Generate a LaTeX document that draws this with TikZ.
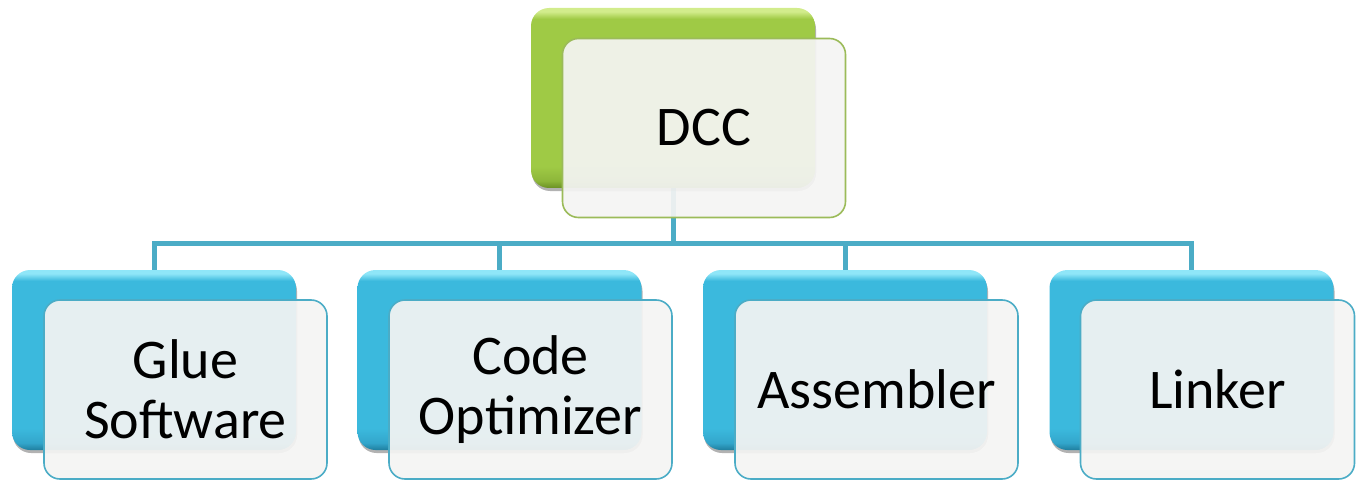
\documentclass[tikz,border=0pt]{standalone}
\usepackage{fontspec}
\setmainfont{Carlito}
\usetikzlibrary{shadows}

% palette
\definecolor{blueBase}{HTML}{3BB9DD}
\definecolor{blueEdge}{HTML}{33A6CB}
\definecolor{blueLight}{HTML}{8FE6F8}
\definecolor{blueDark}{HTML}{1F7E9E}
\definecolor{greenBase}{HTML}{9FCA45}
\definecolor{greenEdge}{HTML}{8DB63A}
\definecolor{greenLight}{HTML}{D2EC8C}
\definecolor{greenDark}{HTML}{6A9024}
\definecolor{blueLine}{HTML}{4BACC6}
\definecolor{greenLine}{HTML}{9BBB59}
\definecolor{paneFill}{HTML}{F4F4F3}

% bevelled fills for the rear cards (stops between 25bp and 75bp span the card)
\pgfdeclareverticalshading{bluebevel}{100bp}{color(0bp)=(blueDark); color(25bp)=(blueDark); color(27bp)=(blueEdge); color(31bp)=(blueBase); color(72bp)=(blueBase); color(74bp)=(blueLight); color(100bp)=(blueLight)}
\pgfdeclareverticalshading{greenbevel}{100bp}{color(0bp)=(greenDark); color(25bp)=(greenDark); color(27bp)=(greenEdge); color(31bp)=(greenBase); color(72bp)=(greenBase); color(74bp)=(greenLight); color(100bp)=(greenLight)}

\pgfdeclarelayer{wires}
\pgfsetlayers{wires,main}

\tikzset{
  card/.style={rectangle, rounded corners=18pt, minimum width=284pt, minimum height=180pt,
    inner sep=0pt, draw=none,
    drop shadow={shadow xshift=1pt, shadow yshift=-3pt, opacity=0.3, fill=black}},
  bluecard/.style={card, shading=bluebevel},
  greencard/.style={card, shading=greenbevel},
  pane/.style={rectangle, rounded corners=16pt, minimum width=283pt, minimum height=179pt,
    inner sep=0pt, fill=paneFill, fill opacity=0.93, text opacity=1, line width=1.6pt,
    align=center, font=\fontsize{56}{60}\selectfont},
  bluepane/.style={pane, draw=blueLine},
  greenpane/.style={pane, draw=greenLine},
  conn/.style={draw=blueLine, line width=5pt, line join=miter}
}

\begin{document}
\begin{tikzpicture}[x=1pt, y=-1pt]
  \useasboundingbox (0,0) rectangle (1356,481);

  % bus line joining the root to the four modules
  \coordinate (bus) at (673,243);

  % rear cards
  \node[greencard] (dccb) at (673,98) {};
  \node[bluecard] (gb) at (154,360) {};
  \node[bluecard] (cb) at (499.5,360) {};
  \node[bluecard] (ab) at (845,360) {};
  \node[bluecard] (lb) at (1191.5,360) {};

  % connectors, kept underneath the cards
  \begin{pgfonlayer}{wires}
    \draw[conn] (dccb.south) -- (dccb.south |- bus);
    \draw[conn] (gb.north) |- (lb.north |- bus) -- (lb.north);
    \draw[conn] (cb.north) -- (cb.north |- bus);
    \draw[conn] (ab.north) -- (ab.north |- bus);
  \end{pgfonlayer}

  % front panes with the labels
  \node[greenpane] (dcc) at (704,128) {DCC};
  \node[bluepane] (glue) at (185.5,389.5) {Glue\\Software};
  \node[bluepane] (code) at (530.5,389.5) {Code\\Optimizer};
  \node[bluepane] (asm) at (876.5,389.5) {Assembler};
  \node[bluepane, minimum width=274pt] (link) at (1217.5,389.5) {Linker};
\end{tikzpicture}
\end{document}
